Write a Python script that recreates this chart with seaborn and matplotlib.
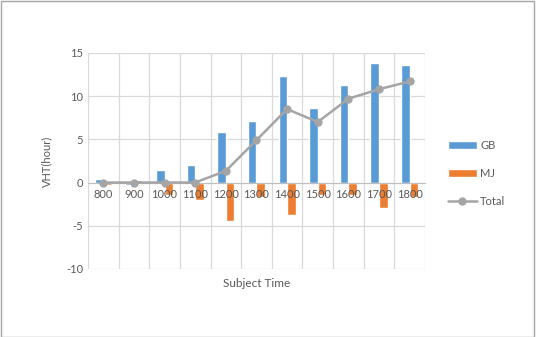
import matplotlib
matplotlib.use('Agg')
import matplotlib.pyplot as plt
import seaborn as sns
import pandas as pd
import numpy as np

# datos
times = ['800', '900', '1000', '1100', '1200', '1300', '1400', '1500', '1600', '1700', '1800']
gb = [0.4, -0.3, 1.4, 2.0, 5.8, 7.1, 12.3, 8.6, 11.3, 13.8, 13.6]
mj = [-0.3, 0.3, -1.4, -2.0, -4.4, -1.7, -3.8, -1.5, -1.5, -3.0, -1.7]
total = [0.0, 0.0, 0.0, 0.0, 1.35, 4.9, 8.5, 7.0, 9.7, 10.8, 11.7]

sns.set_style('white')
plt.rcParams['font.family'] = ['Lato', 'DejaVu Sans']
plt.rcParams['axes.unicode_minus'] = False

df = pd.DataFrame({'time': times * 2,
                   'value': gb + mj,
                   'serie': ['GB'] * len(times) + ['MJ'] * len(times)})
df_tot = pd.DataFrame({'time': times, 'value': total})

fig = plt.figure(figsize=(5.36, 3.37), dpi=100)
ax = fig.add_axes([0.164, 0.202, 0.629, 0.641])

sns.barplot(data=df, x='time', y='value', hue='serie', order=times,
            palette={'GB': '#5B9BD5', 'MJ': '#ED7D31'}, width=0.56,
            saturation=1, ax=ax)
sns.lineplot(data=df_tot, x='time', y='value', color='#A5A5A5', marker='o',
             markersize=6, markeredgewidth=0, linewidth=1.8, label='Total',
             ax=ax, zorder=4)

ax.set_ylim(-10, 15)
ax.set_xlim(-0.5, len(times) - 0.5)
ax.set_yticks(np.arange(-10, 16, 5))

# rejilla dibujada a mano, detras de las barras
ax.grid(False)
for yv in np.arange(-10, 16, 5):
    ax.axhline(yv, color='#D9D9D9', linewidth=0.9, zorder=0)
for xv in np.arange(-0.5, len(times), 1):
    ax.axvline(xv, color='#D9D9D9', linewidth=0.9, zorder=0)

ax.set_axisbelow(False)
for s in ['top', 'right', 'left']:
    ax.spines[s].set_visible(False)
ax.spines['bottom'].set_position(('data', 0))
ax.spines['bottom'].set_color('#BFBFBF')
ax.tick_params(axis='both', which='both', length=0, labelsize=8, colors='#595959')
ax.tick_params(axis='x', pad=5)
ax.set_ylabel('VHT(hour)', fontsize=8, color='#595959', labelpad=10)
ax.set_xlabel('')
fig.text(0.478, 0.148, 'Subject Time', ha='center', fontsize=8.5, color='#595959')

h, l = ax.get_legend_handles_labels()
ax.legend(h, l, loc='center left', bbox_to_anchor=(0.817, 0.485),
          bbox_transform=fig.transFigure, frameon=False, fontsize=8,
          labelcolor='#595959', handlelength=2.6, labelspacing=1.55,
          handletextpad=0.3)

fig.patches.append(plt.Rectangle((0.001, 0.001), 0.996, 0.996, transform=fig.transFigure,
                                 fill=False, edgecolor='#A6A6A6', linewidth=1))

fig.savefig('out.png', dpi=100)
